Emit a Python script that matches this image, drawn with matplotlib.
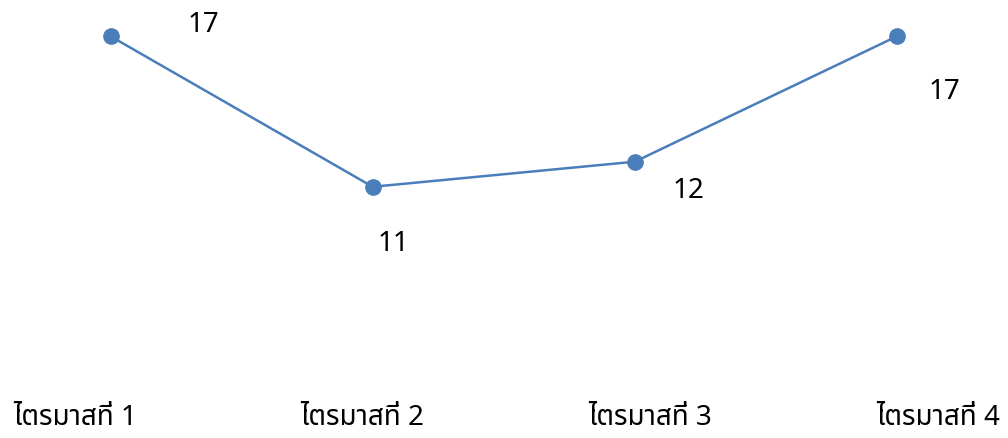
import matplotlib
matplotlib.use("Agg")
import matplotlib.pyplot as plt
from matplotlib.transforms import blended_transform_factory

categories = ["ไตรมาสที่ 1", "ไตรมาสที่ 2", "ไตรมาสที่ 3", "ไตรมาสที่ 4"]
values = [17, 11, 12, 17]
label_offsets = [(93, 12), (21, -56), (54, -28), (48, -55)]  # px offsets of data labels

plt.rcParams['font.family'] = ['Noto Sans Thai', 'Noto Sans', 'DejaVu Sans']

W, H = 1008, 439
fig = plt.figure(figsize=(W / 100, H / 100), dpi=100)
ax = fig.add_axes([0, 0, 1, 1])

color = '#4A7EBB'
xs = list(range(len(values)))
ax.plot(xs, values, color=color, lw=1.8, marker='o', ms=11, mfc=color, mec=color, zorder=3)

# axis mapping: x=0 at ~110.6px, 262.1 px per category; y=17 at ~37.3px, 25.08 px per unit
x0, pxu = 110.6, 262.1
ax.set_xlim(-x0 / pxu, (W - x0) / pxu)
y17, pyu = 37.3, 25.08
ax.set_ylim(17 - (H - y17) / pyu, 17 + y17 / pyu)
ax.axis('off')

for x, v, (dx, dy) in zip(xs, values, label_offsets):
    ax.annotate(str(v), (x, v), xytext=(dx * 0.72, dy * 0.72), textcoords='offset points',
                ha='center', va='center', fontsize=20, color='#000000')

# category labels, evenly spaced at 75..938 px
lab_px = [75, 362, 650, 938]
tr = blended_transform_factory(ax.transData, ax.transAxes)
for px, c in zip(lab_px, categories):
    ax.text((px - x0) / pxu, 1 - 418 / H, c, transform=tr, ha='center', va='center',
            fontsize=20, color='#000000')

fig.savefig("out.png", dpi=100)
